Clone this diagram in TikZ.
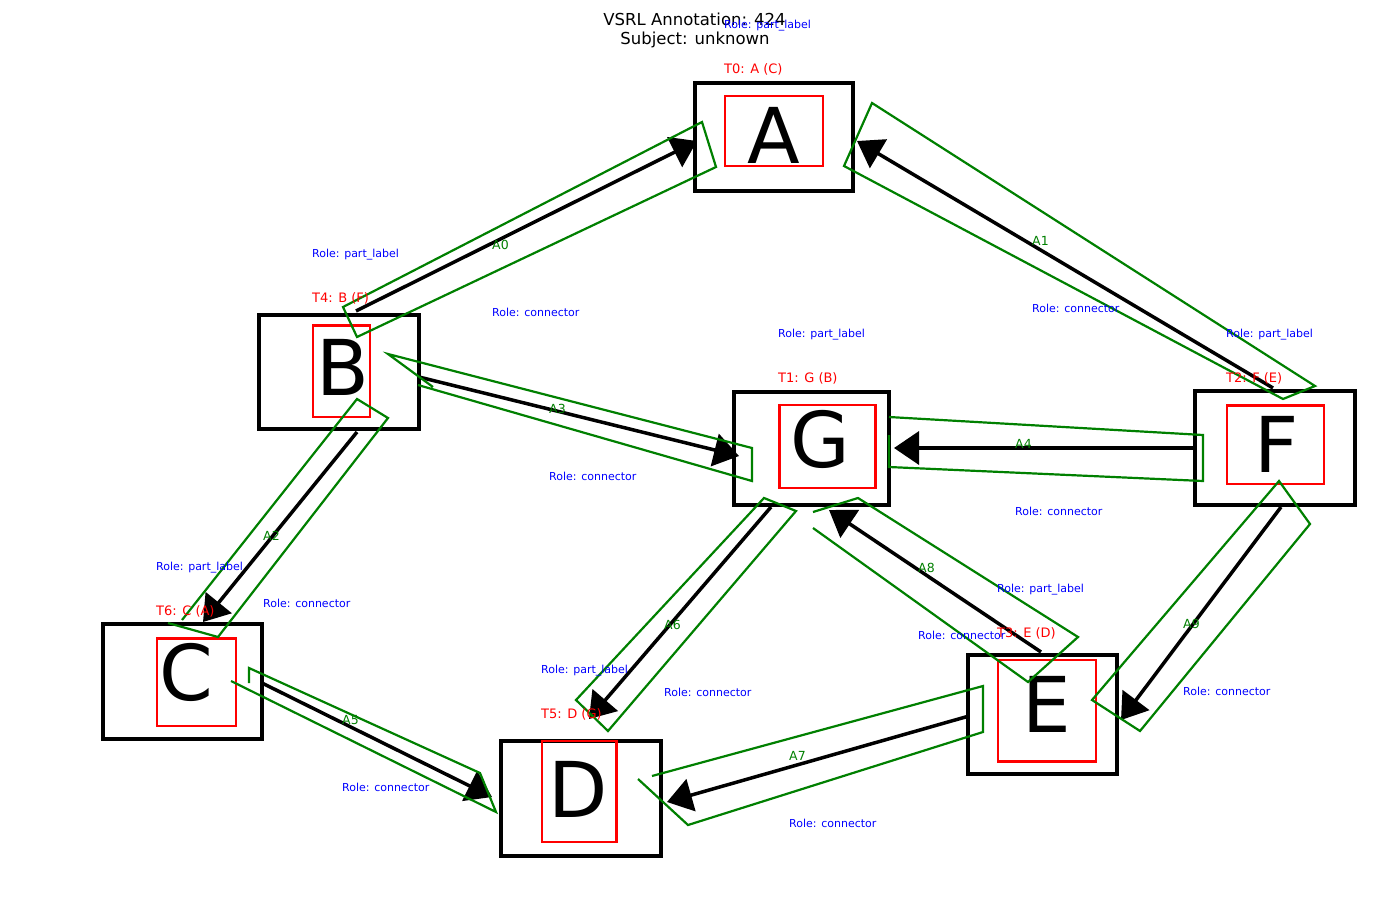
\documentclass[tikz,border=0pt]{standalone}
\usepackage{fontspec}
\setmainfont{DejaVu Sans}
\usetikzlibrary{arrows.meta}

\definecolor{argreen}{RGB}{0,128,0}

\tikzset{
  frame/.style={draw=black, line width=4pt, inner sep=0pt, outer sep=0pt},
  redframe/.style={draw=red, line width=2.5pt, inner sep=0pt, outer sep=0pt},
  glyph/.style={inner sep=0pt, font=\fontsize{77}{77}\selectfont},
  conn/.style={draw=black, line width=3.5pt, -{Triangle[length=25pt,width=33pt]}},
  region/.style={draw=argreen, line width=2.2pt, line join=miter},
  tag/.style={text=red, font=\fontsize{13}{15}\selectfont, anchor=base west, inner sep=0pt},
  argname/.style={text=argreen, font=\fontsize{12.5}{14}\selectfont, anchor=base west, inner sep=0pt},
  role/.style={text=blue, font=\fontsize{11}{13}\selectfont, anchor=base west, inner sep=0pt},
  heading/.style={font=\fontsize{16.5}{20}\selectfont, anchor=base, inner sep=0pt}
}

\begin{document}
\begin{tikzpicture}[x=1pt, y=-1pt]
\useasboundingbox[fill=white] (0,0) rectangle (1389,900);

% black part boxes
\node[frame, minimum width=158pt, minimum height=108pt] (boxA) at (774,137) {};
\node[frame, minimum width=160pt, minimum height=114pt] (boxB) at (339,372) {};
\node[frame, minimum width=159pt, minimum height=115pt] (boxC) at (182.5,681.5) {};
\node[frame, minimum width=160pt, minimum height=115pt] (boxD) at (581,798.5) {};
\node[frame, minimum width=149pt, minimum height=119pt] (boxE) at (1042.5,714.5) {};
\node[frame, minimum width=160pt, minimum height=114pt] (boxF) at (1275,448) {};
\node[frame, minimum width=155pt, minimum height=113pt] (boxG) at (811.5,448.5) {};

% letters
\node[glyph] (letA) at (773.5,135) {A};
\node[glyph] (letB) at (343,367.5) {B};
\node[glyph] (letC) at (186,672.5) {C};
\node[glyph] (letD) at (578,789) {D};
\node[glyph] (letE) at (1046.5,704.5) {E};
\node[glyph] (letF) at (1277,444) {F};
\node[glyph] (letG) at (820,439.5) {G};

% connector end points
\coordinate (a0s) at (356,311);   \coordinate (a0e) at (697,141);
\coordinate (a1s) at (1273,388);  \coordinate (a1e) at (857,141);
\coordinate (a2s) at (357,432);   \coordinate (a2e) at (203,622);
\coordinate (a3s) at (419,377);   \coordinate (a3e) at (739,456);
\coordinate (a4s) at (1195,448);  \coordinate (a4e) at (894,448);
\coordinate (a5s) at (262,683);   \coordinate (a5e) at (492,797);
\coordinate (a6s) at (771,507);   \coordinate (a6e) at (589,719);
\coordinate (a7s) at (969,716);   \coordinate (a7e) at (667,802);
\coordinate (a8s) at (1041,652);  \coordinate (a8e) at (829,510);
\coordinate (a9s) at (1281,507);  \coordinate (a9e) at (1121,720);

% connectors
\draw[conn] (a0s) -- (a0e);
\draw[conn] (a1s) -- (a1e);
\draw[conn] (a2s) -- (a2e);
\draw[conn] (a3s) -- (a3e);
\draw[conn] (a4s) -- (a4e);
\draw[conn] (a5s) -- (a5e);
\draw[conn] (a6s) -- (a6e);
\draw[conn] (a7s) -- (a7e);
\draw[conn] (a8s) -- (a8e);
\draw[conn] (a9s) -- (a9e);

% red text regions
\node[redframe, minimum width=98pt, minimum height=70pt] (redA) at (774,131) {};
\node[redframe, minimum width=57pt, minimum height=91.5pt] (redB) at (341.5,371.25) {};
\node[redframe, minimum width=79pt, minimum height=87.5pt] (redC) at (196.5,682.25) {};
\node[redframe, minimum width=74.5pt, minimum height=101pt] (redD) at (579.25,791.5) {};
\node[redframe, minimum width=98pt, minimum height=101.5pt] (redE) at (1047,710.75) {};
\node[redframe, minimum width=97pt, minimum height=78.5pt] (redF) at (1275.5,444.75) {};
\node[redframe, minimum width=96pt, minimum height=83pt] (redG) at (827.5,446.5) {};

% green argument regions
\draw[region] (343,307) -- (702,122) -- (716,167) -- (357,337) -- cycle;
\draw[region] (872,103) -- (1315,386) -- (1283,399) -- (844,166) -- cycle;
\draw[region] (168,623) -- (218,637) -- (388,418) -- (357,399) -- (182,620);
\draw[region] (433,387) -- (388,354) -- (752,448) -- (752,481) -- (418,385);
\draw[region] (889,417) -- (1203,435) -- (1203,481) -- (889,467) -- (889,435);
\draw[region] (249,683) -- (249,668) -- (480,773) -- (496,812) -- (231,681);
\draw[region] (764,498) -- (796,511) -- (608,731) -- (576,700) -- cycle;
\draw[region] (652,776) -- (983,686) -- (983,732) -- (688,825) -- (638,779);
\draw[region] (813,512) -- (858,498) -- (1078,637) -- (1028,682) -- (813,528);
\draw[region] (1279,481) -- (1310,524) -- (1140,731) -- (1092,700) -- cycle;

% title
\node[heading] (title1) at (694.5,25) {VSRL Annotation: 424};
\node[heading] (title2) at (695,44) {Subject: unknown};

% part tags
\node[tag] (tagA) at (724,73) {T0: A (C)};
\node[tag] (tagG) at (778,382) {T1: G (B)};
\node[tag] (tagF) at (1226,382) {T2: F (E)};
\node[tag] (tagE) at (997,637) {T3: E (D)};
\node[tag] (tagB) at (312,302) {T4: B (F)};
\node[tag] (tagD) at (541,718) {T5: D (G)};
\node[tag] (tagC) at (156,615) {T6: C (A)};

% part roles
\node[role] (roleA) at (724,28) {Role: part\_label};
\node[role] (roleG) at (778,337) {Role: part\_label};
\node[role] (roleF) at (1226,337) {Role: part\_label};
\node[role] (roleE) at (997,592) {Role: part\_label};
\node[role] (roleB) at (312,257) {Role: part\_label};
\node[role] (roleD) at (541,673) {Role: part\_label};
\node[role] (roleC) at (156,570) {Role: part\_label};

% argument names and roles
\node[argname] (n0) at (492,249) {A0};
\node[role] (r0) at (492,316) {Role: connector};
\node[argname] (n1) at (1032,245) {A1};
\node[role] (r1) at (1032,312) {Role: connector};
\node[argname] (n2) at (263,540) {A2};
\node[role] (r2) at (263,607) {Role: connector};
\node[argname] (n3) at (549,413) {A3};
\node[role] (r3) at (549,480) {Role: connector};
\node[argname] (n4) at (1015,448) {A4};
\node[role] (r4) at (1015,515) {Role: connector};
\node[argname] (n5) at (342,724) {A5};
\node[role] (r5) at (342,791) {Role: connector};
\node[argname] (n6) at (664,629) {A6};
\node[role] (r6) at (664,696) {Role: connector};
\node[argname] (n7) at (789,760) {A7};
\node[role] (r7) at (789,827) {Role: connector};
\node[argname] (n8) at (918,572) {A8};
\node[role] (r8) at (918,639) {Role: connector};
\node[argname] (n9) at (1183,628) {A9};
\node[role] (r9) at (1183,695) {Role: connector};
\end{tikzpicture}
\end{document}
